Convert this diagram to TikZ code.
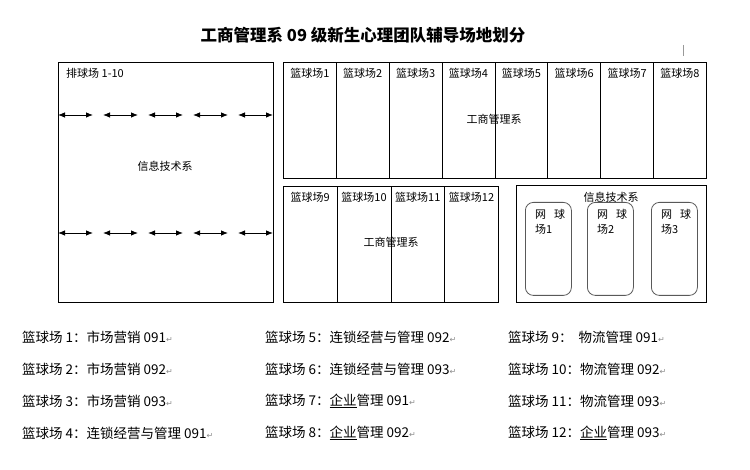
\documentclass[tikz,border=0pt]{standalone}
\usepackage{fontspec}
\setmainfont{Noto Sans CJK SC}
\newfontfamily\markfont{DejaVu Sans}
\usetikzlibrary{arrows.meta}
\newcommand{\pmark}{{\markfont\fontsize{8}{8}\selectfont\color{black!45}↵}}

\begin{document}
\begin{tikzpicture}
    [x=1pt,y=-1pt,
     field/.style={draw,line width=0.8pt,anchor=north west,inner sep=0pt},
     court/.style={field,minimum width=52.875pt,minimum height=116pt,
       label={[anchor=north,yshift=-3pt,font=\fontsize{11}{13}\selectfont]north:#1}},
     halfcourt/.style={court=#1,minimum width=53.75pt},
     tennis/.style={draw=black!65,line width=0.8pt,rounded corners=8pt,anchor=north west,
       minimum width=46pt,minimum height=93pt},
     small/.style={font=\fontsize{11}{15}\selectfont,inner sep=0pt},
     legend/.style={anchor=west,inner sep=0pt,font=\fontsize{13.5}{15}\selectfont},
     dblarrow/.style={{Latex[length=7pt,width=5.5pt]}-{Latex[length=7pt,width=5.5pt]},line width=0.8pt}]
    \useasboundingbox (0,0) rectangle (750,470);

    \node[font=\fontsize{16.5}{18}\selectfont\bfseries] (title) at (363,35) {工商管理系 09 级新生心理团队辅导场地划分};
    \draw[black!40] (683,45) -- (683,56);

    % volleyball
    \node[field,minimum width=215pt,minimum height=240pt] (volley) at (58,62) {};
    \node[small,anchor=west] (vname) at (66,73) {排球场 1-10};
    \node[small] (vdept) at (165,166) {信息技术系};
    \foreach \row/\y in {a/115,b/233}
      \foreach \i in {0,...,4} {
        \coordinate (\row l\i) at (58+45*\i,\y);
        \coordinate (\row r\i) at (93+45*\i,\y);
        \draw[dblarrow] (\row l\i) -- (\row r\i);
      }

    % basketball
    \node[court=篮球场1] (b1) at (283,62) {};
    \node[court=篮球场2] (b2) at (335.875,62) {};
    \node[court=篮球场3] (b3) at (388.75,62) {};
    \node[court=篮球场4] (b4) at (441.625,62) {};
    \node[court=篮球场5] (b5) at (494.5,62) {};
    \node[court=篮球场6] (b6) at (547.375,62) {};
    \node[court=篮球场7] (b7) at (600.25,62) {};
    \node[court=篮球场8] (b8) at (653.125,62) {};
    \node[small] (bdept1) at (494,119) {工商管理系};

    \node[halfcourt=篮球场9] (b9) at (283,186) {};
    \node[halfcourt=篮球场10] (b10) at (336.75,186) {};
    \node[halfcourt=篮球场11] (b11) at (390.5,186) {};
    \node[halfcourt=篮球场12] (b12) at (444.25,186) {};
    \node[small] (bdept2) at (391,242) {工商管理系};

    % tennis
    \node[field,minimum width=190pt,minimum height=117pt] (tarea) at (516,185) {};
    \node[small] (tdept) at (611,197) {信息技术系};
    \node[tennis] (t1) at (525,202) {};
    \node[tennis] (t2) at (587,202) {};
    \node[tennis] (t3) at (651,202) {};
    \node[small,anchor=north west,align=left] (t1name) at (535,209) {网\hspace{8pt}球\\场1};
    \node[small,anchor=north west,align=left] (t2name) at (597,209) {网\hspace{8pt}球\\场2};
    \node[small,anchor=north west,align=left] (t3name) at (661,209) {网\hspace{8pt}球\\场3};

    % legend
    \node[legend] (leg1) at (22,337) {篮球场 1：市场营销 091\pmark};
    \node[legend] (leg2) at (22,369) {篮球场 2：市场营销 092\pmark};
    \node[legend] (leg3) at (22,401) {篮球场 3：市场营销 093\pmark};
    \node[legend] (leg4) at (22,433) {篮球场 4：连锁经营与管理 091\pmark};
    \node[legend] (leg5) at (265,337) {篮球场 5：连锁经营与管理 092\pmark};
    \node[legend] (leg6) at (265,369) {篮球场 6：连锁经营与管理 093\pmark};
    \node[legend] (leg7) at (265,401) {篮球场 7：\underline{企业}管理 091\pmark};
    \node[legend] (leg8) at (265,433) {篮球场 8：\underline{企业}管理 092\pmark};
    \node[legend] (leg9) at (508,337) {篮球场 9：\hspace{6pt}物流管理 091\pmark};
    \node[legend] (leg10) at (508,369) {篮球场 10：物流管理 092\pmark};
    \node[legend] (leg11) at (508,401) {篮球场 11：物流管理 093\pmark};
    \node[legend] (leg12) at (508,433) {篮球场 12：\underline{企业}管理 093\pmark};
  \end{tikzpicture}
\end{document}
